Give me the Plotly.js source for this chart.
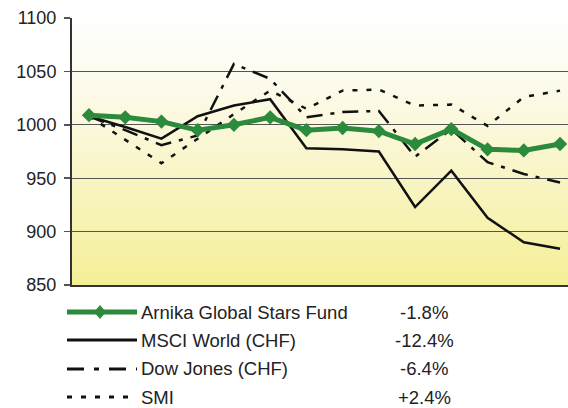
<!DOCTYPE html>
<html>
<head>
<meta charset="utf-8">
<script src="https://cdn.plot.ly/plotly-3.0.1.min.js"></script>
<style>html,body{margin:0;padding:0;background:#fff;}#chart{width:568px;height:408px;}</style>
</head>
<body>
<div id="chart"></div>
<script>
// ---- data ----
const periods = [0,1,2,3,4,5,6,7,8,9,10,11,12,13];
const arnika  = [1009,1007,1003,995,1000,1007,995,997,994,982,996,977,976,982];
const msci    = [1008,998,987,1008,1018,1024,978,977,975,923,957,913,890,884];
const dow     = [1008,995,981,990,1057,1043,1007,1012,1013,970,996,965,954,946];
const smi     = [1008,986,964,987,1010,1032,1015,1032,1033,1018,1019,999,1026,1032];
const seriesNames = ["Arnika Global Stars Fund","MSCI World (CHF)","Dow Jones (CHF)","SMI"];
const seriesReturns = ["-1.8%","-12.4%","-6.4%","+2.4%"];
const yTicks = [850,900,950,1000,1050,1100];

const green = '#2b8a3c';
const dark = '#111111';
const dashDot = '16px,8px,4px,8px';
const dotted = '5px,9px';

const traces = [
  {x: periods, y: msci, mode:'lines', line:{color:dark, width:2.5}, name:seriesNames[1]},
  {x: periods, y: dow, mode:'lines', line:{color:dark, width:2.5, dash:dashDot}, name:seriesNames[2]},
  {x: periods, y: smi, mode:'lines', line:{color:dark, width:2.5, dash:dotted}, name:seriesNames[3]},
  {x: periods, y: arnika, mode:'lines+markers', line:{color:green, width:5},
   marker:{symbol:'diamond', size:11, color:green}, name:seriesNames[0]}
];

// plot area in page pixels
const L = 72, R = 568, T = 18, B = 285;
const px2x = p => (p - L) / (R - L);
const px2y = p => (B - p) / (B - T);

const rowY = [312, 340, 369, 397];
const shapes = [];
const annotations = [];
const styles = [
  {color:green, width:5, dash:'solid'},
  {color:dark, width:3, dash:'solid'},
  {color:dark, width:3, dash:'17px,10px,5px,10px'},
  {color:dark, width:3, dash:'5px,9px'}
];
const legFont = {family:'Liberation Sans, Arial, sans-serif', size:18.5, color:'#222'};
rowY.forEach((py, i) => {
  shapes.push({type:'line', xref:'paper', yref:'paper',
    x0:px2x(67), x1:px2x(137), y0:px2y(py), y1:px2y(py),
    line:{color:styles[i].color, width:styles[i].width, dash:styles[i].dash}});
  annotations.push({xref:'paper', yref:'paper', x:px2x(139), y:px2y(py),
    xanchor:'left', yanchor:'middle', showarrow:false, text:seriesNames[i], font:legFont});
  annotations.push({xref:'paper', yref:'paper', x:px2x(424), y:px2y(py),
    xanchor:'center', yanchor:'middle', showarrow:false, text:seriesReturns[i], font:legFont});
});
// legend diamond
const dx = 6/(R-L), dy = 7/(B-T), cx = px2x(100), cy = px2y(rowY[0]);
shapes.push({type:'path', xref:'paper', yref:'paper',
  path:`M ${cx-dx} ${cy} L ${cx} ${cy+dy} L ${cx+dx} ${cy} L ${cx} ${cy-dy} Z`,
  fillcolor:green, line:{color:green, width:0}});

const svg = '<svg xmlns="http://www.w3.org/2000/svg" width="10" height="100" preserveAspectRatio="none">' +
  '<defs><linearGradient id="g" x1="0" y1="0" x2="0" y2="1">' +
  '<stop offset="0" stop-color="#fefefd"/><stop offset="0.2" stop-color="#fdfcf0"/>' +
  '<stop offset="0.45" stop-color="#faf7d6"/><stop offset="1" stop-color="#f4ef96"/>' +
  '</linearGradient></defs><rect width="10" height="100" fill="url(#g)"/></svg>';

const layout = {
  width:568, height:408,
  margin:{l:L, r:568-R, t:T, b:408-B, pad:0},
  paper_bgcolor:'#ffffff',
  plot_bgcolor:'rgba(0,0,0,0)',
  showlegend:false,
  font:{family:'Liberation Sans, Arial, sans-serif', size:18, color:'#222'},
  xaxis:{range:[-0.469, 13.22], showticklabels:false, ticks:'', showgrid:false,
    zeroline:false, showline:true, linecolor:'#333', linewidth:2},
  yaxis:{range:[850,1100], tickvals:yTicks, ticktext:yTicks.map(String), ticks:'outside', ticklen:6,
    tickcolor:'#555', tickwidth:1.5, showgrid:true, gridcolor:'#555', gridwidth:1,
    zeroline:false, showline:true, linecolor:'#333', linewidth:2, ticklabelstandoff:4,
    tickfont:{size:18, color:'#222'}},
  images:[{source:'data:image/svg+xml;charset=utf-8,' + encodeURIComponent(svg),
    xref:'paper', yref:'paper', x:0, y:1, sizex:1, sizey:1, sizing:'stretch',
    xanchor:'left', yanchor:'top', layer:'below'}],
  shapes: shapes,
  annotations: annotations
};

Plotly.newPlot('chart', traces, layout, {displayModeBar:false, staticPlot:true});
</script>
</body>
</html>
